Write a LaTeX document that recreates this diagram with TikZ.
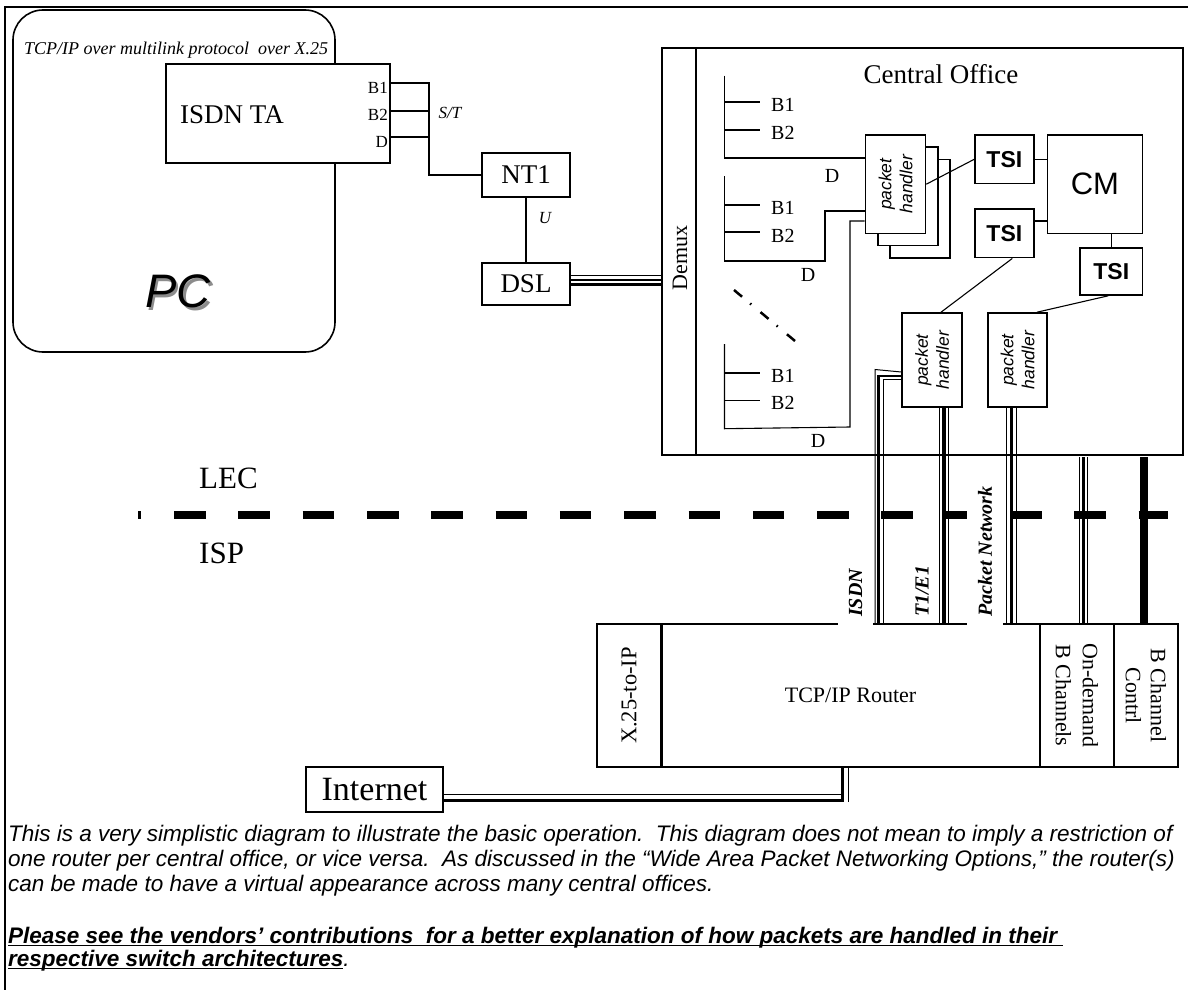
\documentclass[tikz,border=0pt]{standalone}
\usepackage{fontspec}
\setmainfont{Liberation Serif}
\setsansfont{Liberation Sans}
\usetikzlibrary{calc}
\newcommand\fsz[2]{\fontsize{#1}{#2}\selectfont}
\newcommand\myul[1]{\setbox0\hbox{#1}\rlap{\rule[-3.4pt]{\wd0}{1.8pt}}\box0}
\begin{document}
\begin{tikzpicture}[x=1pt,y=-1pt,
  box/.style={draw,line width=1.6pt,fill=white,inner sep=0pt},
  wire/.style={line width=1.1pt},
  lbl/.style={inner sep=0pt},
  pht/.style={rotate=90,align=center,inner sep=0pt,font=\sffamily\itshape\fsz{17.5}{21}},
  tsi/.style={box,font=\sffamily\bfseries\fsz{23}{23},minimum width=58.7pt,minimum height=48.6pt},
  phbox/.style={box,minimum width=60pt,minimum height=98.4pt},
  rt/.style={box,minimum height=143pt},
  vlab/.style={rotate=90,anchor=west,font=\bfseries\itshape\fsz{20}{20},inner xsep=10pt,inner ysep=10.5pt},
  foot/.style={anchor=base west,inner sep=0pt,font=\sffamily\itshape\fsz{22.5}{25}},
  footb/.style={anchor=base west,inner sep=0pt,font=\sffamily\bfseries\itshape\fsz{22.5}{25}}
]
\useasboundingbox (0,0) rectangle (1188,990);
\fill[white] (0,0) rectangle (1188,990);
\draw[line width=1.6pt] (5,990) -- (5,7) -- (1188,7);

% PC
\node[draw,line width=1.6pt,rounded corners=30pt,minimum width=322pt,minimum height=342pt,inner sep=0pt] (pc) at (174,181) {};
\node[lbl,font=\itshape\fsz{18}{18},anchor=west] (pctitle) at (24,50) {TCP/IP over multilink protocol\ \ over X.25};
\node[lbl,font=\sffamily\itshape\fsz{47}{47}] (pclbl) at (178,293) {\makebox[0pt][l]{\hspace{2.5pt}\raisebox{-2.5pt}{\textcolor{black!45}{PC}}}PC};

% ISDN TA
\node[box,minimum width=224pt,minimum height=99pt] (ta) at (278,113.5) {};
\node[lbl,font=\fsz{27}{27},anchor=west] (talbl) at (180,115) {ISDN TA};
\node[lbl,font=\fsz{17}{17},anchor=east] (tab1) at (388,88) {B1};
\node[lbl,font=\fsz{17}{17},anchor=east] (tab2) at (388,115) {B2};
\node[lbl,font=\fsz{17}{17},anchor=east] (tad) at (388,142) {D};

% NT1, DSL
\node[box,font=\fsz{27}{27},minimum width=88pt,minimum height=44pt] (nt1) at (526,175) {NT1};
\node[box,font=\fsz{27}{27},minimum width=88pt,minimum height=42pt] (dsl) at (526,284) {DSL};
\node[lbl,font=\itshape\fsz{17}{17}] (st) at (450,113) {S/T};
\node[lbl,font=\itshape\fsz{17}{17}] (u) at (545,218) {U};

\coordinate (stt) at (429,82);
\coordinate (stb) at (429,175);
\draw[wire] (stt) -- (stb) -- (nt1.west);
\foreach \y in {83,111,137} \draw[wire] (ta.east |- 0,\y) -- (stt |- 0,\y);
\draw[wire] (nt1.south) -- (dsl.north);

% Central office
\node[box,minimum width=521pt,minimum height=407pt] (co) at (922.5,251.5) {};
\draw[line width=2.8pt] (co.north -| 696,0) -- (co.south -| 696,0);
\node[lbl,rotate=90,font=\fsz{22}{22}] (demux) at (680,258) {Demux};
\node[lbl,font=\fsz{27}{27}] (colbl) at (941,74) {Central Office};
\draw[line width=1pt] (dsl.east |- 0,275) -- (co.west |- 0,275);
\draw[line width=2.2pt] (dsl.east |- 0,280) -- (co.west |- 0,280);
\draw[line width=2.2pt] (dsl.east |- 0,284.5) -- (co.west |- 0,284.5);

% packet handler stack
\node[phbox] (ph1c) at (920.1,208.6) {};
\node[phbox] (ph1b) at (907.8,196.4) {};
\node[phbox] (ph1a) at (895.5,184.2) {};
\node[pht] (ph1t) at (ph1a.center) {packet\\handler};

\node[tsi] (tsi1) at (1004.35,159.3) {TSI};
\node[tsi] (tsi2) at (1004.35,233.3) {TSI};
\node[box,font=\sffamily\fsz{31}{31},minimum width=95.1pt,minimum height=98.4pt] (cm) at (1094.95,184.2) {CM};
\node[tsi,minimum width=62.5pt,minimum height=47.2pt] (tsi3) at (1111.25,271.4) {TSI};

\node[box,minimum width=60pt,minimum height=94pt] (ph2) at (932,360) {};
\node[pht] (ph2t) at (ph2.center) {packet\\handler};
\node[box,minimum width=59pt,minimum height=94pt] (ph3) at (1017.5,360) {};
\node[pht] (ph3t) at (ph3.center) {packet\\handler};

% subscriber line groups
\draw[wire] (724.5,75.5) -- (724.5,158) -- (ph1a.west |- 0,158);
\draw[wire] (724.5,176) -- (724.5,261) -- (825,261) -- (825,211) -- (ph1a.west |- 0,211);
\draw[wire] (724.5,344) -- (724.5,428.7) -- (850,427) -- (850,221) -- (ph1a.west |- 0,221);
\foreach \y in {102,130,205,232,373,400.5} \draw[wire] (724.5,\y) -- ++(35.5,0);
\node[lbl,font=\fsz{20}{20},anchor=west] (g1b1) at (771,105) {B1};
\node[lbl,font=\fsz{20}{20},anchor=west] (g1b2) at (771,133) {B2};
\node[lbl,font=\fsz{20}{20},anchor=west] (g2b1) at (771,208) {B1};
\node[lbl,font=\fsz{20}{20},anchor=west] (g2b2) at (771,236) {B2};
\node[lbl,font=\fsz{20}{20},anchor=west] (g3b1) at (771,376) {B1};
\node[lbl,font=\fsz{20}{20},anchor=west] (g3b2) at (771,403) {B2};
\node[lbl,font=\fsz{20}{20}] (g1d) at (832,176) {D};
\node[lbl,font=\fsz{20}{20}] (g2d) at (808,274.5) {D};
\node[lbl,font=\fsz{20}{20}] (g3d) at (818,441) {D};
\draw[line width=2.5pt,dash pattern=on 10.5pt off 10.5pt on 1.5pt off 12pt] (734,290) -- (795,341);

% links inside CO
\draw[wire] (ph1a.east) -- (tsi1.west);
\draw[wire] (tsi1.east) -- (cm.west |- tsi1.east);
\draw[wire] (tsi2.east |- 0,221) -- (cm.west |- 0,221);
\draw[wire] (tsi3.north) -- (tsi3.north |- cm.south);
\draw[wire] ($(ph2.north)+(9,0)$) -- ($(tsi2.south)+(8,0)$);
\draw[wire] ($(ph3.north)+(19.5,0)$) -- ($(tsi3.south)+(-3,0)$);

% LEC / ISP boundary
\draw[line width=8pt,dash pattern=on 31.5pt off 32.8pt,dash phase=28.5pt] (138.3,515) -- (1168,515);
\node[lbl,font=\fsz{31}{31},anchor=west] (lec) at (199,478) {LEC};
\node[lbl,font=\fsz{31}{31},anchor=west] (isp) at (199,553) {ISP};

% router
\node[rt,minimum width=64pt] (x25) at (629,695.5) {};
\node[rt,minimum width=379pt,font=\fsz{22}{22}] (tcp) at (850.5,695.5) {TCP/IP Router};
\node[rt,minimum width=74pt] (ond) at (1077,695.5) {};
\node[rt,minimum width=64pt] (bch) at (1146,695.5) {};
\draw[line width=2.8pt] (x25.north east) -- (x25.south east);
\node[lbl,rotate=90,font=\fsz{22.5}{22.5}] (x25t) at (x25.center) {X.25-to-IP};
\node[lbl,rotate=-90,align=center,font=\fsz{22}{27}] (ondt) at (ond.center) {On-demand\\B Channels};
\node[lbl,rotate=-90,align=center,font=\fsz{22}{25}] (bcht) at (bch.center) {B Channel\\Contrl};

% trunks
\draw[line width=1pt] (ph2.west |- 0,372) -- (875,369.5) -- (tcp.north -| 875,0);
\draw[line width=2.8pt] (ph2.west |- 0,376) -- (878.3,376) -- (tcp.north -| 878.3,0);
\draw[line width=1pt] (ph2.west |- 0,379.5) -- (883.3,379.5) -- (tcp.north -| 883.3,0);
\draw[line width=1pt] (ph2.south -| 939.3,0) -- (tcp.north -| 939.3,0);
\draw[line width=3.5pt] (ph2.south -| 943.8,0) -- (tcp.north -| 943.8,0);
\draw[line width=1pt] (ph2.south -| 948.3,0) -- (tcp.north -| 948.3,0);
\draw[line width=1pt] (ph3.south -| 1006.7,0) -- (tcp.north -| 1006.7,0);
\draw[line width=3.5pt] (ph3.south -| 1011.5,0) -- (tcp.north -| 1011.5,0);
\draw[line width=1pt] (ph3.south -| 1016,0) -- (tcp.north -| 1016,0);
\draw[line width=1pt] (1079.3,457) -- (ond.north -| 1079.3,0);
\draw[line width=3pt] (1083.3,457) -- (ond.north -| 1083.3,0);
\draw[line width=1pt] (1087.3,457) -- (ond.north -| 1087.3,0);
\draw[line width=7.7pt] (1144,457) -- (bch.north -| 1144,0);

\node[vlab,fill=white] (isdnl) at (855.5,627) {ISDN};
\node[vlab] (t1l) at (922,627) {T1/E1};
\node[vlab,fill=white] (pnl) at (985,627) {Packet Network};

% Internet
\node[box,font=\fsz{34}{34},minimum width=137pt,minimum height=45pt] (inet) at (374.5,789.5) {Internet};
\draw[line width=3pt] (inet.east |- 0,800) -- (842,800) -- (tcp.south -| 842,0);
\draw[line width=1pt] (inet.east |- 0,794.5) -- (842,794.5);
\draw[line width=1pt] (tcp.south -| 848,0) -- (848,801.5);

% footnote
\node[foot] (f1) at (8,841) {This is a very simplistic diagram to illustrate the basic operation.\ \ This diagram does not mean to imply a restriction of};
\node[foot] (f2) at (8,866) {one router per central office, or vice versa.\ \ As discussed in the “Wide Area Packet Networking Options,” the router(s)};
\node[foot] (f3) at (8,891) {can be made to have a virtual appearance across many central offices.};
\node[footb] (f4) at (8,943) {\myul{Please see the vendors’ contributions\ \ for a better explanation of how packets are handled in their\ }};
\node[footb] (f5) at (8,966) {\myul{respective switch architectures}{\mdseries.}};
\end{tikzpicture}
\end{document}
